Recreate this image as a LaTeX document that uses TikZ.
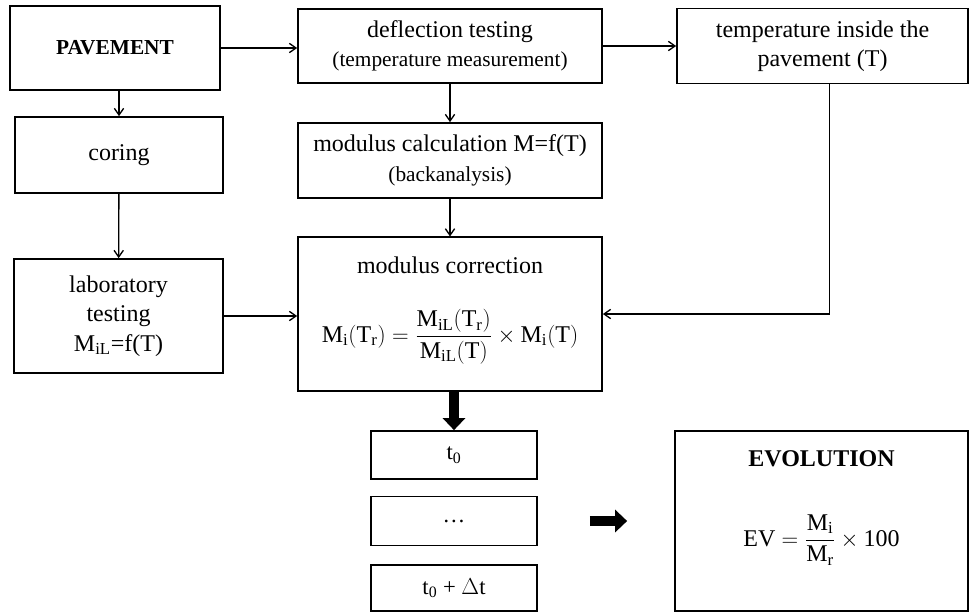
\documentclass[tikz,border=0pt]{standalone}
\usepackage{amsmath}
\usepackage{fontspec}
\setmainfont{Liberation Serif}
\usetikzlibrary{arrows.meta}

\newcommand{\rmtx}[1]{\text{#1}}

\begin{document}
\begin{tikzpicture}[
    x=0.75pt, y=-0.75pt,
    box/.style={draw, line width=1.3pt, align=center, inner sep=2pt,
      font=\fontsize{18}{22}\selectfont},
    flow/.style={-{Straight Barb[length=5pt,width=7pt]}, line width=1pt},
    bigarrow/.style={-{Triangle[length=9pt,width=16.5pt]}, line width=8pt}
  ]
  \useasboundingbox (0,0) rectangle (969,612);

  % left column
  \node[box, minimum width=157.5pt, minimum height=63pt] (pav) at (115,48)
    {\fontsize{16}{19}\selectfont\bfseries PAVEMENT};
  \node[box, minimum width=156pt, minimum height=57pt] (coring) at (119,155) {coring};
  \node[box, minimum width=156.75pt, minimum height=85.5pt] (lab) at (118.5,316)
    {laboratory\\testing\\M\textsubscript{iL}=f(T)};

  % middle column
  \node[box, minimum width=228pt, minimum height=55.5pt] (defl) at (450,46)
    {deflection testing\\{\fontsize{16}{19}\selectfont (temperature measurement)}};
  \node[box, minimum width=228pt, minimum height=56.25pt] (calc) at (450,160.5)
    {modulus calculation M=f(T)\\{\fontsize{16}{19}\selectfont (backanalysis)}};
  \node[box, minimum width=228pt, minimum height=115pt] (corr) at (450,314)
    {modulus correction\\[26pt]
     $\displaystyle \rmtx{M}_{\rmtx{i}}(\rmtx{T}_{\rmtx{r}})
      =\frac{\rmtx{M}_{\rmtx{iL}}(\rmtx{T}_{\rmtx{r}})}{\rmtx{M}_{\rmtx{iL}}(\rmtx{T})}
      \times\rmtx{M}_{\rmtx{i}}(\rmtx{T})$\\[0pt]\mbox{}};

  % right column
  \node[box, minimum width=218.25pt, minimum height=56.25pt] (temp) at (822.5,46)
    {temperature inside the\\pavement (T)};

  % time steps
  \node[box, minimum width=124.5pt, minimum height=36pt] (t0) at (454,455)
    {\fontsize{17}{20}\selectfont t\textsubscript{0}};
  \node[box, minimum width=124.5pt, minimum height=36.75pt] (dots) at (454,521)
    {\fontsize{17}{20}\selectfont \ldots};
  \node[box, minimum width=124.5pt, minimum height=34.5pt] (tdt) at (454,588)
    {\fontsize{17}{20}\selectfont t\textsubscript{0} + $\Delta$t};

  \node[box, minimum width=219.75pt, minimum height=135pt] (evo) at (821.5,521)
    {\bfseries EVOLUTION\\[35pt]
     $\displaystyle \rmtx{EV}=\frac{\rmtx{M}_{\rmtx{i}}}{\rmtx{M}_{\rmtx{r}}}\times\rmtx{100}$\\[12pt]\mbox{}};

  % connectors
  \draw[flow] (pav.east) -- (pav.east -| defl.west);
  \draw[flow] (defl) -- (temp);
  \draw[flow] (pav.south -| coring.north) -- (coring.north);
  \draw[flow] (coring) -- (lab);
  \draw[flow] (defl) -- (calc);
  \draw[flow] (calc) -- (corr);
  \draw[flow] (lab.east) -- (lab.east -| corr.west);
  \draw[flow] ([xshift=5pt]temp.south) |- (corr.east);

  \draw[bigarrow] (corr.south -| t0.north) -- (t0.north);
  \draw[bigarrow] ([xshift=39pt]dots.east) -- ([xshift=-35.25pt]evo.west);
\end{tikzpicture}
\end{document}
